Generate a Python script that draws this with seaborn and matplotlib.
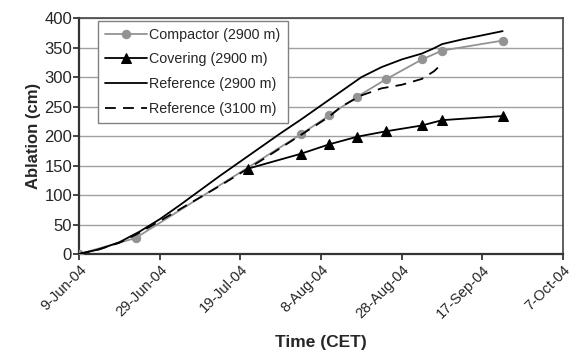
import pandas as pd
import seaborn as sns
import matplotlib.pyplot as plt
import matplotlib.dates as mdates
from matplotlib.ticker import FuncFormatter

# Compactor (2900 m) – measured points
compactor_dates = ["2004-06-09", "2004-06-23", "2004-08-03", "2004-08-10", "2004-08-17",
                   "2004-08-24", "2004-09-02", "2004-09-07", "2004-09-22"]
compactor_vals = [0, 27, 203, 235, 267, 296, 330, 345, 362]

# Covering (2900 m)
covering_dates = ["2004-07-21", "2004-08-03", "2004-08-10", "2004-08-17",
                  "2004-08-24", "2004-09-02", "2004-09-07", "2004-09-22"]
covering_vals = [145, 170, 186, 199, 208, 218, 227, 234]

# Reference (2900 m)
ref2900_dates = ["2004-06-09", "2004-06-14", "2004-06-19", "2004-06-24", "2004-06-29",
                 "2004-07-04", "2004-07-09", "2004-07-14", "2004-07-19", "2004-07-24",
                 "2004-07-29", "2004-08-03", "2004-08-08", "2004-08-13", "2004-08-18",
                 "2004-08-23", "2004-08-28", "2004-09-02", "2004-09-05", "2004-09-07",
                 "2004-09-12", "2004-09-17", "2004-09-22"]
ref2900_vals = [0, 8, 20, 38, 59, 83, 108, 133, 157, 181,
                205, 228, 252, 276, 300, 317, 330, 340, 349, 356,
                364, 371, 378]

# Reference (3100 m)
ref3100_dates = ["2004-06-09", "2004-06-14", "2004-06-19", "2004-06-24", "2004-06-29",
                 "2004-07-04", "2004-07-09", "2004-07-14", "2004-07-19", "2004-07-24",
                 "2004-07-29", "2004-08-03", "2004-08-08", "2004-08-10", "2004-08-13",
                 "2004-08-18", "2004-08-23", "2004-08-28", "2004-09-02", "2004-09-05",
                 "2004-09-07"]
ref3100_vals = [0, 8, 19, 36, 56, 76, 96, 116, 137, 158,
                180, 202, 224, 233, 250, 269, 281, 287, 297, 310,
                323]

x_ticks = pd.date_range("2004-06-09", "2004-10-07", freq="20D")

sns.set_style("white")
plt.rcParams["font.family"] = ["Liberation Sans", "DejaVu Sans"]

fig, ax = plt.subplots(figsize=(5.77, 3.56), dpi=100)
fig.subplots_adjust(left=0.137, right=0.976, bottom=0.2865, top=0.949)

sns.lineplot(x=pd.to_datetime(compactor_dates), y=compactor_vals, ax=ax, color="#939393",
             marker="o", markersize=6, markeredgecolor="#939393", linewidth=1.3,
             label="Compactor (2900 m)", zorder=3)
sns.lineplot(x=pd.to_datetime(covering_dates), y=covering_vals, ax=ax, color="black",
             marker="^", markersize=6.5, markeredgecolor="black", linewidth=1.3,
             label="Covering (2900 m)", zorder=4)
sns.lineplot(x=pd.to_datetime(ref2900_dates), y=ref2900_vals, ax=ax, color="black",
             linewidth=1.3, label="Reference (2900 m)", zorder=4)
sns.lineplot(x=pd.to_datetime(ref3100_dates), y=ref3100_vals, ax=ax, color="black",
             linewidth=1.3, label="Reference (3100 m)", zorder=4)
ax.lines[3].set_dashes([6, 4])

ax.set_xlim(x_ticks[0], x_ticks[-1])
ax.set_ylim(0, 400)
ax.set_yticks(range(0, 401, 50))
ax.set_xticks(x_ticks)
ax.xaxis.set_major_formatter(FuncFormatter(
    lambda v, pos: (lambda d: f"{d.day}-{d.strftime('%b-%y')}")(mdates.num2date(v))))
ax.tick_params(axis="x", labelsize=10.5, length=4, width=1.2, direction="out",
               bottom=True, pad=2)
ax.tick_params(axis="y", labelsize=12, length=4, width=1.2, direction="out",
               left=True, pad=1)
plt.setp(ax.get_xticklabels(), rotation=45, ha="right", rotation_mode="anchor")

ax.yaxis.grid(True, color="#a0a0a0", linewidth=1)
ax.set_axisbelow(True)
for side in ["left", "bottom"]:
    ax.spines[side].set_color("#333333")
    ax.spines[side].set_linewidth(1.6)
for side in ["top", "right"]:
    ax.spines[side].set_color("#444444")
    ax.spines[side].set_linewidth(1.2)

ax.set_xlabel("Time (CET)", fontsize=12.5, fontweight="bold", labelpad=10)
ax.set_ylabel("Ablation (cm)", fontsize=12, fontweight="bold", labelpad=2)

leg = ax.legend(loc="upper left", bbox_to_anchor=(0.039, 0.99), fontsize=10.3,
                frameon=True, fancybox=False, edgecolor="#808080", framealpha=1,
                handlelength=2.9, handletextpad=0.2, borderpad=0.5, labelspacing=0.75,
                borderaxespad=0)
leg.get_frame().set_linewidth(1)

plt.savefig("out.png", dpi=100)
